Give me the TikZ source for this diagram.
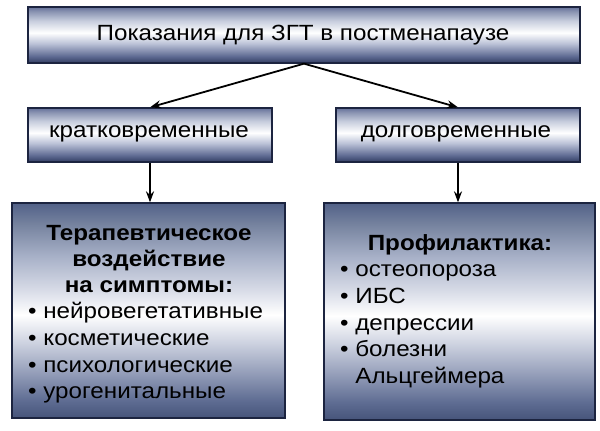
\documentclass[tikz,border=0pt]{standalone}
\usepackage{fontspec}
\setmainfont[FakeStretch=1.1]{Liberation Sans}
\usetikzlibrary{arrows.meta}
\definecolor{bA}{HTML}{323D62}
\definecolor{bB}{HTML}{5E6A92}
\definecolor{bC}{HTML}{BCC3D8}
\definecolor{bD}{HTML}{C8CEDE}
\definecolor{bE}{HTML}{8A94B2}
\definecolor{bF}{HTML}{65719A}
\definecolor{cA}{HTML}{46547A}
\definecolor{cB}{HTML}{5E6C92}
\definecolor{cC}{HTML}{909AB6}
\definecolor{cD}{HTML}{CDD2E0}
\definecolor{cE}{HTML}{D6DAE6}
\definecolor{cF}{HTML}{A8B1C8}
\definecolor{cG}{HTML}{76839F}
\definecolor{cH}{HTML}{526188}
\definecolor{edge}{HTML}{1C2440}
\pgfdeclareverticalshading{barshade}{100bp}{color(0bp)=(bA); color(25bp)=(bA); color(31bp)=(bB); color(42.5bp)=(bC); color(52bp)=(white); color(62.5bp)=(bD); color(71bp)=(bE); color(75bp)=(bF); color(100bp)=(bF)}
\pgfdeclareverticalshading{boxshade}{100bp}{color(0bp)=(cA); color(25bp)=(cA); color(29bp)=(cB); color(35bp)=(cC); color(42.5bp)=(cD); color(49bp)=(white); color(55bp)=(cE); color(62.5bp)=(cF); color(70bp)=(cG); color(75bp)=(cH); color(100bp)=(cH)}
\begin{document}
\begin{tikzpicture}[x=1pt,y=-1pt,
  font=\fontsize{22}{27}\selectfont,
  bar/.style={shading=barshade, draw=edge, line width=1.3pt, inner sep=0pt},
  bigbox/.style={shading=boxshade, draw=edge, line width=1.3pt, inner sep=0pt},
  txt/.style={inner sep=0pt, text=black},
  arr/.style={-{Stealth[length=11pt,width=8pt]}, line width=1.8pt, black}]
\useasboundingbox (0,0) rectangle (600,431);
\node[bar, minimum width=552, minimum height=56] (top) at (304,35) {};
\node[txt] (topt) at (303,35) {Показания для ЗГТ в постменапаузе};
\node[bar, minimum width=244, minimum height=54] (midL) at (150,135) {};
\node[txt] (midLt) at (149,134) {кратковременные};
\node[bar, minimum width=244, minimum height=54] (midR) at (458,135) {};
\node[txt] (midRt) at (456,134) {долговременные};
\node[bigbox, minimum width=273, minimum height=215] (botL) at (148.5,310.5) {};
\node[bigbox, minimum width=271, minimum height=217] (botR) at (459.5,311.5) {};
\node[txt, align=center, font=\fontsize{22}{26}\selectfont\bfseries] (hL) at (149,259)
  {Терапевтическое\\ воздействие\\ на симптомы:};
\node[txt, align=left, anchor=west, font=\fontsize{22}{26.7}\selectfont] (lL) at (28,353)
  {\textbullet\ нейровегетативные\\ \textbullet\ косметические\\ \textbullet\ психологические\\ \textbullet\ урогенитальные};
\node[txt, font=\fontsize{22}{27}\selectfont\bfseries] (hR) at (460,245) {Профилактика:};
\node[txt, align=left, anchor=west, font=\fontsize{22}{26.8}\selectfont] (lR) at (340,326.5)
  {\textbullet\ остеопороза\\ \textbullet\ ИБС\\ \textbullet\ депрессии\\ \textbullet\ болезни\\ \hphantom{\textbullet\ }Альцгеймера};
\draw[arr] (top.south) -- (midL.north);
\draw[arr] (top.south) -- (midR.north);
\draw[arr] (midL.south) -- (midL.south |- botL.north);
\draw[arr] (midR.south) -- (midR.south |- botR.north);
\end{tikzpicture}
\end{document}
